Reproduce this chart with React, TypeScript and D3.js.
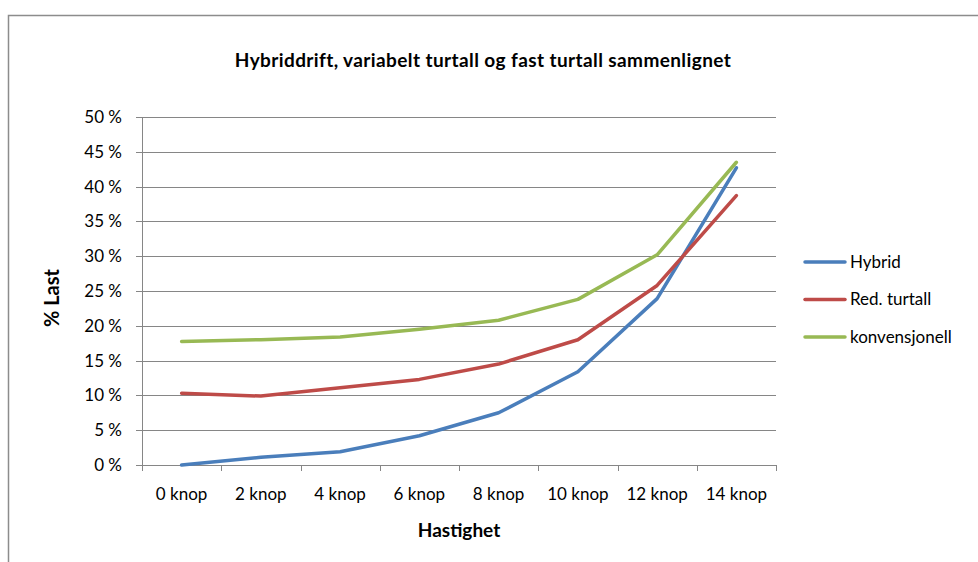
import { useRef, useEffect } from "react";
import * as d3 from "d3";

const categories = ["0 knop", "2 knop", "4 knop", "6 knop", "8 knop", "10 knop", "12 knop", "14 knop"];
const hybrid = [0.0, 1.1, 1.9, 4.2, 7.5, 13.4, 23.9, 42.7];
const redTurtall = [10.3, 9.9, 11.1, 12.3, 14.5, 18.0, 25.8, 38.7];
const konvensjonell = [17.75, 18.0, 18.4, 19.5, 20.8, 23.8, 30.2, 43.5];
const yTicks = [0, 5, 10, 15, 20, 25, 30, 35, 40, 45, 50];

const seriesList = [
  { name: "Hybrid", values: hybrid, color: "#4A7EBB" },
  { name: "Red. turtall", values: redTurtall, color: "#BE4B48" },
  { name: "konvensjonell", values: konvensjonell, color: "#98B954" },
];

const FONT = "Lato, 'Open Sans', sans-serif";

export default function App() {
  const svgRef = useRef<SVGSVGElement>(null);

  useEffect(() => {
    if (!svgRef.current) return;
    const svg = d3.select(svgRef.current);
    svg.selectAll("*").remove();

    const W = 978;
    const H = 562;
    const left = 142;
    const right = 776;
    const top = 117;
    const bottom = 465;

    svg.attr("width", W).attr("height", H);

    // chart frame
    svg.append("path")
      .attr("d", `M8.5,${H + 5}V15.5H${W + 5}`)
      .attr("fill", "none")
      .attr("stroke", "#8c8c8c")
      .attr("stroke-width", 1.5);

    const x = d3.scaleBand<string>().domain(categories).range([left, right]);
    const y = d3.scaleLinear().domain([0, 50]).range([bottom, top]);

    // gridlines
    svg.append("g")
      .selectAll("line")
      .data(yTicks)
      .join("line")
      .attr("x1", left - 6)
      .attr("x2", right)
      .attr("y1", (d) => Math.round(y(d)) + 0.5)
      .attr("y2", (d) => Math.round(y(d)) + 0.5)
      .attr("stroke", "#868686")
      .attr("stroke-width", 1);

    // y axis line
    svg.append("line")
      .attr("x1", left + 0.5).attr("x2", left + 0.5)
      .attr("y1", top).attr("y2", bottom + 1)
      .attr("stroke", "#868686");

    // x ticks
    const xTickPos = categories.map((c) => x(c)!).concat([right]);
    svg.append("g")
      .selectAll("line")
      .data(xTickPos)
      .join("line")
      .attr("x1", (d) => Math.round(d) + 0.5)
      .attr("x2", (d) => Math.round(d) + 0.5)
      .attr("y1", bottom)
      .attr("y2", bottom + 6)
      .attr("stroke", "#868686");

    // y labels
    svg.append("g")
      .selectAll("text")
      .data(yTicks)
      .join("text")
      .attr("x", 122)
      .attr("y", (d) => y(d))
      .attr("dy", "0.35em")
      .attr("text-anchor", "end")
      .attr("font-family", FONT)
      .attr("font-size", 17)
      .attr("fill", "#000")
      .text((d) => `${d} %`);

    // x labels
    svg.append("g")
      .selectAll("text")
      .data(categories)
      .join("text")
      .attr("x", (d) => x(d)! + x.bandwidth() / 2)
      .attr("y", 494)
      .attr("dy", "0.35em")
      .attr("text-anchor", "middle")
      .attr("font-family", FONT)
      .attr("font-size", 17)
      .attr("fill", "#000")
      .text((d) => d);

    // lines
    const line = d3.line<number>()
      .x((_, i) => x(categories[i])! + x.bandwidth() / 2)
      .y((d) => y(d));

    seriesList.forEach((s) => {
      svg.append("path")
        .datum(s.values)
        .attr("d", line)
        .attr("fill", "none")
        .attr("stroke", s.color)
        .attr("stroke-width", 3.5)
        .attr("stroke-linejoin", "round")
        .attr("stroke-linecap", "round");
    });

    // title
    svg.append("text")
      .attr("x", 483)
      .attr("y", 60)
      .attr("dy", "0.35em")
      .attr("text-anchor", "middle")
      .attr("font-family", FONT)
      .attr("font-weight", "bold")
      .attr("font-size", 19)
      .attr("letter-spacing", 0.4)
      .text("Hybriddrift, variabelt turtall og fast turtall sammenlignet");

    // axis titles
    svg.append("text")
      .attr("x", 459)
      .attr("y", 530)
      .attr("dy", "0.35em")
      .attr("text-anchor", "middle")
      .attr("font-family", FONT)
      .attr("font-weight", "bold")
      .attr("font-size", 19)
      .text("Hastighet");

    svg.append("text")
      .attr("transform", "translate(52,298) rotate(-90)")
      .attr("dy", "0.35em")
      .attr("text-anchor", "middle")
      .attr("font-family", FONT)
      .attr("font-weight", "bold")
      .attr("font-size", 20)
      .text("% Last");

    // legend
    const legend = svg.append("g")
      .selectAll("g")
      .data(seriesList)
      .join("g")
      .attr("transform", (_, i) => `translate(805,${262 + i * 37.5})`);
    legend.append("line")
      .attr("x1", 0).attr("x2", 40)
      .attr("stroke", (d) => d.color)
      .attr("stroke-width", 3.5)
      .attr("stroke-linecap", "round");
    legend.append("text")
      .attr("x", 45)
      .attr("dy", "0.35em")
      .attr("font-family", FONT)
      .attr("font-size", 17)
      .text((d) => d.name);
  }, []);

  return (
    <div style={{ position: "absolute", left: 0, top: 0, width: 978, height: 562, overflow: "hidden", background: "#fff" }}>
      <svg ref={svgRef} style={{ display: "block" }} />
    </div>
  );
}
